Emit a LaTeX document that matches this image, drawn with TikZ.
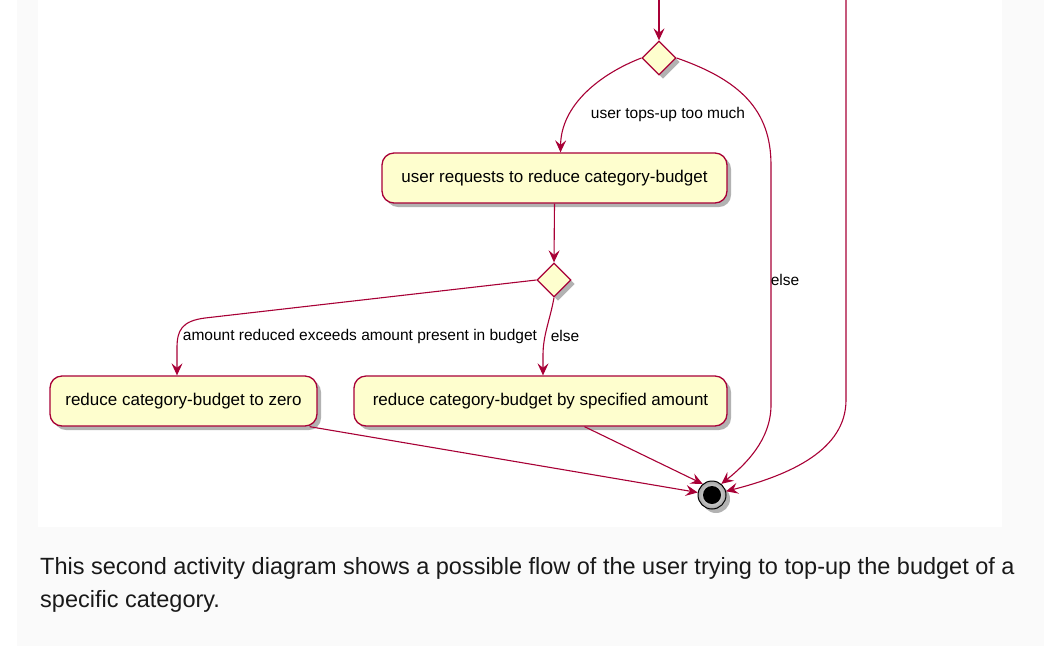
\documentclass[tikz,border=0pt]{standalone}
\usepackage{fontspec}
\setmainfont{Liberation Sans}
\usetikzlibrary{shapes.geometric,arrows.meta,shadows}
\definecolor{pred}{HTML}{A80036}
\definecolor{pfill}{HTML}{FEFECE}
\definecolor{pagebg}{HTML}{FAFAFA}
\begin{document}
\begin{tikzpicture}[x=1pt,y=-1pt,
  shd/.style={drop shadow={shadow xshift=4pt, shadow yshift=-4pt, opacity=0.3, fill=black}},
  act/.style={draw=pred, fill=pfill, line width=1.3pt, rounded corners=12pt,
    minimum height=50pt, inner sep=0pt, font=\fontsize{17}{20}\selectfont, shd},
  dia/.style={diamond, draw=pred, fill=pfill, line width=1.3pt, minimum width=34pt,
    minimum height=34pt, inner sep=0pt, shd},
  flow/.style={draw=pred, line width=1.1pt, -{Stealth[length=12pt,width=11pt,inset=4.5pt]}},
  lbl/.style={font=\fontsize{15.5}{18}\selectfont, inner sep=0pt},
  endc/.style={circle, minimum size=28pt, inner sep=0pt, draw=black, line width=1pt,
    inner color=white, outer color=gray!70, shd,
    path picture={\fill[black] (path picture bounding box.center) circle (9pt);}},
  captext/.style={anchor=base west, inner sep=0pt, font=\fontsize{23.5}{28}\selectfont, text=black!90}
]
\useasboundingbox (0,0) rectangle (1054,649);
\fill[white] (0,0) rectangle (1054,649);
\fill[pagebg] (17,0) rectangle (1044,646);
\fill[white] (38,0) rectangle (1002,527);

% nodes
\coordinate (top1) at (659,0);
\coordinate (topR) at (846,0);
\node[dia] (d1) at (659,58) {};
\node[act, minimum width=345pt] (b1) at (554.5,178) {user requests to reduce category-budget};
\node[dia] (d2) at (554,280) {};
\node[act, minimum width=267pt] (b2) at (183.5,401) {reduce category-budget to zero};
\node[act, minimum width=373pt] (b3) at (540.5,401) {reduce category-budget by specified amount};
\node[endc] (end) at (712,495) {};

% connectors
\draw[flow] (top1) -- (d1.north);
\draw[flow] (d1.west) .. controls (600,74) and (561,105) .. ([xshift=6pt]b1.north);
\node[lbl] (l1) at (668,114) {user tops-up too much};
\draw[flow] (d1.east) .. controls (740,80) and (771,110) .. (771,165) -- (771,405)
  .. controls (771,440) and (745,465) .. (end.50);
\node[lbl] (l2) at (785,280) {else};
\draw[flow] (topR) -- (846,400) .. controls (846,450) and (790,475) .. (end.15);

\draw[flow] (b1.south) -- (d2.north);
\draw[flow] (d2.west) -- (205,318) .. controls (182,321) and (177,330) .. (177,348)
  -- ([xshift=-6.5pt]b2.north);
\node[lbl] (l3) at (360,336) {amount reduced exceeds amount present in budget};
\draw[flow] (d2.south) .. controls (550,320) and (543,335) .. (543,355) -- ([xshift=2.5pt]b3.north);
\node[lbl] (l4) at (565,336) {else};

\draw[flow] ([xshift=-8pt]b2.south east) -- (end.170);
\draw[flow] ([xshift=44pt]b3.south) -- (end.130);

% caption
\node[captext] (c1) at (40,574) {This second activity diagram shows a possible flow of the user trying to top-up the budget of a};
\node[captext] (c2) at (40,607) {specific category.};
\end{tikzpicture}
\end{document}
